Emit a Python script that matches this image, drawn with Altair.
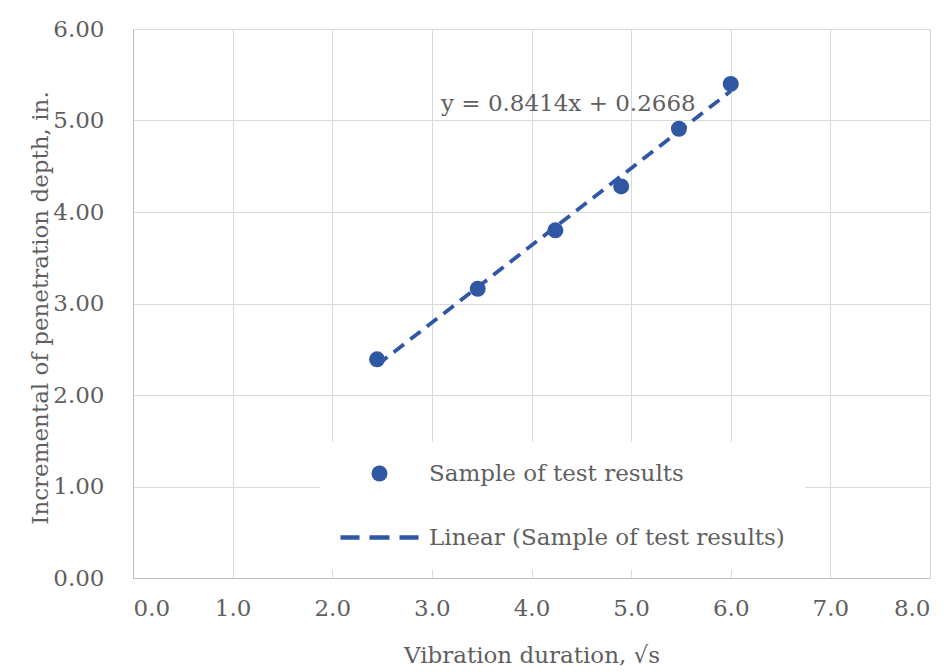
import altair as alt
import pandas as pd

# ---- data ----
x_sqrt_s = [2.45, 3.46, 4.24, 4.90, 5.48, 6.00]
depth_in = [2.39, 3.16, 3.80, 4.28, 4.91, 5.40]
series_names = ["Sample of test results", "Linear (Sample of test results)"]
equation_label = ["y = 0.8414x + 0.2668"]
equation_x = [4.37]
equation_y = [5.18]
x_ticks = [0, 1, 2, 3, 4, 5, 6, 7, 8]
y_ticks = [0, 1, 2, 3, 4, 5, 6]

FONT = "DejaVu Serif"
TEXT = "#5f5f5f"
BLUE = "#2f57a3"
GRID = "#d9d9d9"
DOMAIN = "#bfbfbf"
FS = 23

# dashed-line legend symbol (three dashes), in symbol units (radius = 8px)
DASH_SYMBOL = (
    "M-4.875,-0.28H-2.5V0.28H-4.875Z"
    "M-1.25,-0.28H1.25V0.28H-1.25Z"
    "M2.5,-0.28H4.875V0.28H2.5Z"
)

points_df = pd.DataFrame({"x": x_sqrt_s, "y": depth_in, "series": series_names[0]})
eq_df = pd.DataFrame({"x": equation_x, "y": equation_y, "label": equation_label})

x_scale = alt.Scale(domain=[0, 8], nice=False, zero=False)
y_scale = alt.Scale(domain=[0, 6], nice=False, zero=False)

x_axis = alt.Axis(
    values=x_ticks, format=".1f", title="Vibration duration, √s",
    labelFont=FONT, labelFontSize=FS, labelColor=TEXT, labelPadding=19,
    titleFont=FONT, titleFontSize=FS, titleColor=TEXT, titleFontWeight="normal",
    titleX=398.5, titleY=77, titleBaseline="middle", titleAlign="center",
    grid=True, gridColor=GRID, gridWidth=1, ticks=False,
    domainColor=DOMAIN, domainWidth=1,
)
y_axis = alt.Axis(
    values=y_ticks, format=".2f", title="Incremental of penetration depth, in.",
    labelFont=FONT, labelFontSize=FS, labelColor=TEXT, labelPadding=29,
    titleFont=FONT, titleFontSize=23, titleColor=TEXT, titleFontWeight="normal",
    titleX=-93, titleY=278.5, titleAngle=-90, titleBaseline="middle", titleAlign="center",
    grid=True, gridColor=GRID, gridWidth=1, ticks=False,
    domainColor=DOMAIN, domainWidth=1,
)

legend = alt.Legend(
    orient="none", legendX=187, legendY=413, title=None,
    fillColor="white", padding=20,
    labelFont=FONT, labelFontSize=FS, labelColor=TEXT,
    labelOffset=38, symbolOffset=28, labelLimit=700, rowPadding=40,
    symbolSize=256, symbolStrokeWidth=0, symbolFillColor=BLUE,
    symbolOpacity=1,
)

points = alt.Chart(points_df).mark_point(
    filled=True, color=BLUE, size=256, strokeWidth=0, opacity=1
).encode(
    x=alt.X("x:Q", scale=x_scale, axis=x_axis),
    y=alt.Y("y:Q", scale=y_scale, axis=y_axis),
    shape=alt.Shape(
        "series:N",
        scale=alt.Scale(domain=series_names, range=["circle", DASH_SYMBOL]),
        legend=legend,
    ),
)

trend = alt.Chart(points_df).transform_regression(
    "x", "y", method="linear"
).mark_line(color=BLUE, strokeWidth=3.8, strokeDash=[13, 8]).encode(
    x=alt.X("x:Q", scale=x_scale),
    y=alt.Y("y:Q", scale=y_scale),
)

eq_text = alt.Chart(eq_df).mark_text(
    font=FONT, fontSize=FS, color=TEXT, align="center", baseline="middle"
).encode(
    x=alt.X("x:Q", scale=x_scale),
    y=alt.Y("y:Q", scale=y_scale),
    text="label:N",
)

chart = alt.layer(trend, points, eq_text).properties(
    width=797, height=549,
    padding={"left": 21, "top": 10, "right": 5, "bottom": 5},
    background="white",
).configure_view(stroke=None)

chart.save("out.html", embed_options={"renderer": "svg", "actions": False})
